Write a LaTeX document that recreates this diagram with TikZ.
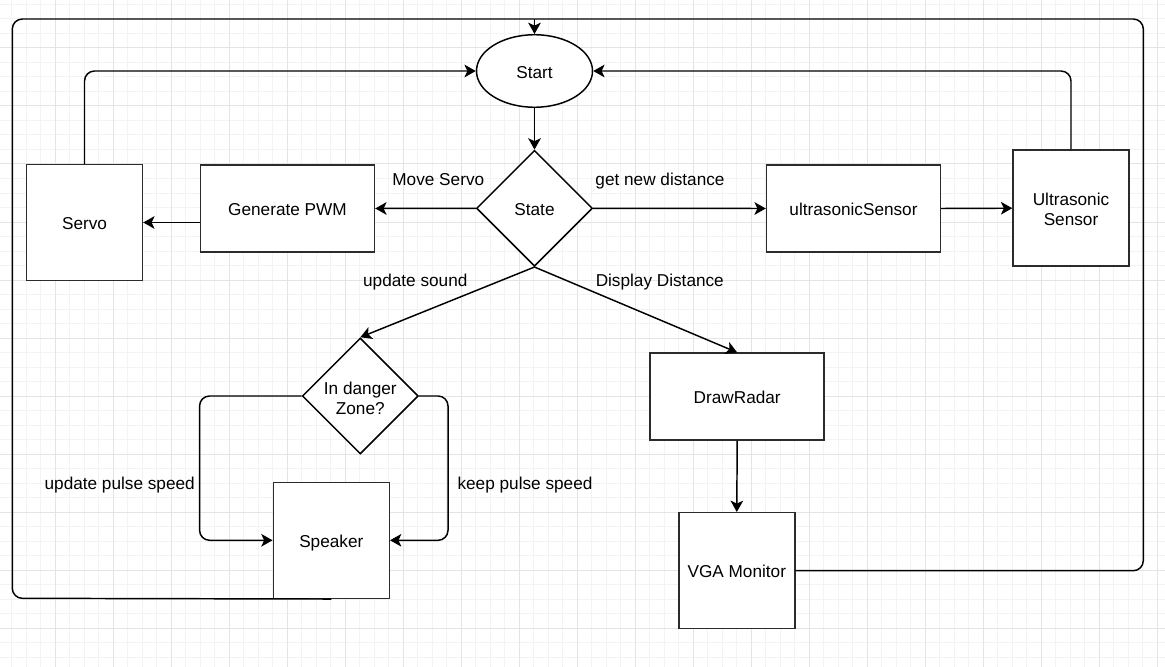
\documentclass[tikz,border=0pt]{standalone}
\usepackage{fontspec}
\setmainfont{Liberation Sans}
\usetikzlibrary{shapes.geometric,arrows.meta}
\definecolor{gridminor}{HTML}{F3F3F3}
\definecolor{gridmajor}{HTML}{E4E4E4}
\definecolor{boxline}{HTML}{2B2B2B}
\begin{document}
\begin{tikzpicture}[x=0.75pt,y=-0.75pt,
  font=\fontsize{12.9pt}{14.8pt}\selectfont,
  oneline/.style={text height=10.6pt, text depth=0pt},
  flow/.style={line width=1.1pt, draw=black, rounded corners=7.5pt,
    -{Stealth[length=8.5pt,width=9.5pt,inset=2.2pt]}},
  plainline/.style={line width=1.1pt, draw=black, rounded corners=7.5pt},
  blockbox/.style={draw=boxline, line width=1.1pt, fill=white, rectangle,
    inner sep=0pt, align=center},
  smallbox/.style={blockbox, minimum width=87pt, minimum height=87pt},
  widebox/.style={blockbox, minimum width=130.5pt, minimum height=65.25pt},
  decision/.style={draw=black, line width=1.1pt, fill=white, diamond, aspect=1,
    inner sep=0pt, minimum width=87pt, minimum height=87pt, align=center},
  terminal/.style={draw=black, line width=1.1pt, fill=white, ellipse,
    inner sep=0pt, minimum width=87pt, minimum height=54.4pt},
  lbl/.style={inner sep=0pt, oneline}
]
% page and background grid
\useasboundingbox (0,0) rectangle (1165,667);
\fill[white] (0,0) rectangle (1165,667);
\foreach \k in {0,...,79} \draw[gridminor, line width=0.75pt] ({11.5+14.5*\k},0) -- ({11.5+14.5*\k},667);
\foreach \k in {0,...,45} \draw[gridminor, line width=0.75pt] (0,{4.5+14.5*\k}) -- (1165,{4.5+14.5*\k});
\foreach \k in {0,...,19} \draw[gridmajor, line width=0.75pt] ({55+58*\k},0) -- ({55+58*\k},667);
\foreach \k in {0,...,11} \draw[gridmajor, line width=0.75pt] (0,{48+58*\k}) -- (1165,{48+58*\k});

% blocks
\node[terminal, oneline] (start) at (534.5,71) {Start};
\node[decision, oneline] (state) at (534.5,208.3) {State};
\node[widebox, oneline] (pwm) at (287.5,208.5) {Generate PWM};
\node[smallbox, oneline] (servo) at (84.5,222.5) {Servo};
\node[widebox, oneline] (usensor) at (853.5,208.5) {ultrasonicSensor};
\node[smallbox, text height=25.2pt, text depth=0pt] (uhw) at (1071,208.2) {Ultrasonic\\Sensor};
\node[decision, text height=27.4pt, text depth=0pt] (danger) at (360.3,396) {In danger\\Zone?};
\node[smallbox, oneline] (speaker) at (331.3,540.3) {Speaker};
\node[widebox, oneline] (radar) at (737.2,396.7) {DrawRadar};
\node[smallbox, oneline] (vga) at (736.8,570.7) {VGA Monitor};

% loop-back routing points
\coordinate (loopTop) at (534.5,19);
\coordinate (loopNE) at (1143.3,19);
\coordinate (loopSE) at (1143.3,570.7);
\coordinate (loopNW) at (12.3,19);
\coordinate (loopSW) at (12.3,598.3);

% connectors
\draw[flow] (start.south) -- (state.north);
\draw[flow] (state.west) -- (pwm.east);
\draw[flow] (pwm.west |- servo.center) -- (servo.east);
\draw[flow] (state.east) -- (usensor.west);
\draw[flow] (usensor.east) -- (uhw.west);
\draw[flow] (servo.north) |- (start.west);
\draw[flow] (uhw.north) |- (start.east);
\draw[flow] (state.south) -- (danger.north);
\draw[flow] (state.south) -- (radar.north);
\draw[flow] (radar.south) -- (vga.north);
\draw[flow] (danger.west) -- ++(-102,0) |- (speaker.west);
\draw[flow] (danger.east) -- ++(29,0) |- (speaker.east);
\draw[plainline] (vga.east) -- (loopSE) -- (loopNE) -- (loopTop);
\draw[plainline] (speaker.south) -- (loopSW) -- (loopNW) -- (loopTop);
\draw[flow] (loopTop) -- (start.north);

% connector labels
\node[lbl] (tMove) at (438.3,178.4) {Move Servo};
\node[lbl] (tGet) at (660,178.4) {get new distance};
\node[lbl] (tSound) at (415.3,279.8) {update sound};
\node[lbl] (tDisp) at (659.8,279.8) {Display Distance};
\node[lbl] (tUpd) at (119.7,482.4) {update pulse speed};
\node[lbl] (tKeep) at (525,482.4) {keep pulse speed};
\end{tikzpicture}
\end{document}
